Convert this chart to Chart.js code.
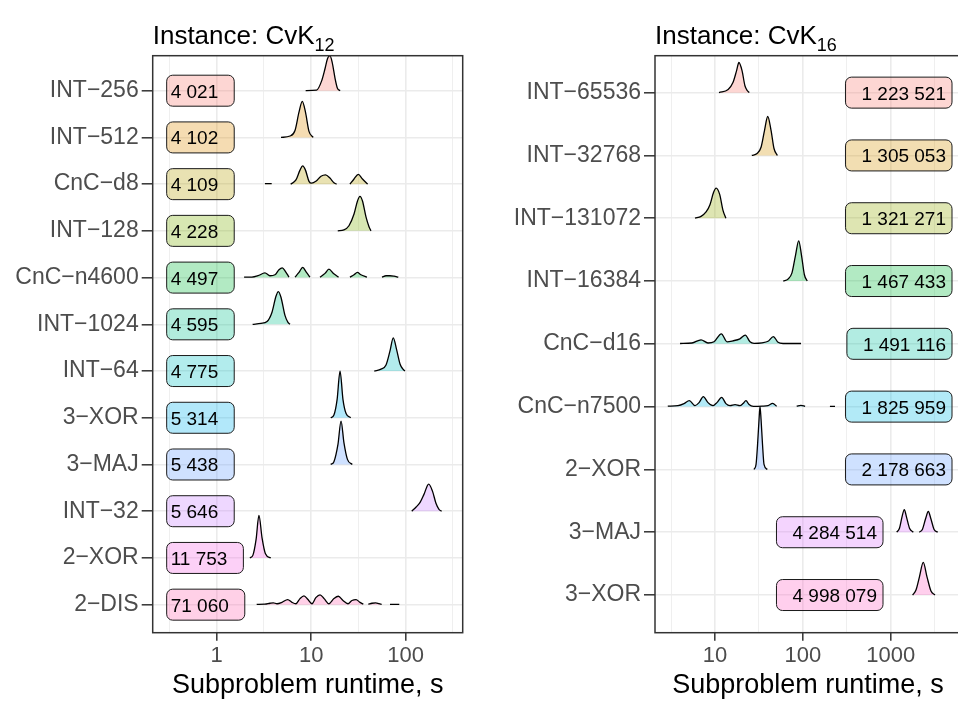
<!DOCTYPE html>
<html>
<head>
<meta charset="utf-8">
<script src="https://cdn.jsdelivr.net/npm/chart.js@4.4.0/dist/chart.umd.min.js"></script>
<style>
  html, body { margin: 0; padding: 0; background: #fff; width: 958px; height: 701px; overflow: hidden; }
  canvas { position: absolute; top: 0; }
  #leftChart { left: 0; }
  #rightChart { left: 480px; }
</style>
</head>
<body>
<canvas id="leftChart" width="480" height="701"></canvas>
<canvas id="rightChart" width="490" height="701"></canvas>
<script>
// ---- Instance CvK12 (rows listed top to bottom) ----
const leftCategories = ["INT−256", "INT−512", "CnC−d8", "INT−128", "CnC−n4600", "INT−1024",
  "INT−64", "3−XOR", "3−MAJ", "INT−32", "2−XOR", "2−DIS"];
const leftCounts = [4021, 4102, 4109, 4228, 4497, 4595, 4775, 5314, 5438, 5646, 11753, 71060];
const leftLabelX = [0.326, 0.326, 0.326, 0.326, 0.326, 0.326, 0.326, 0.326, 0.326, 0.326, 0.326, 0.326];
const leftXTicks = [1, 10, 100];

// ridges: [runtime s, height in rows], null = gap
const r12_INT256 = [[8.74,0],[11.4,0.01],[12.9,0.21],[14.0,0.47],[14.9,0.69],[15.8,0.75],[16.7,0.6],[17.9,0.26],[18.9,0.06],[20.2,0]];
const r12_INT512 = [[4.79,0],[5.97,0.03],[6.74,0.15],[7.43,0.54],[8.05,0.77],[8.70,0.54],[9.48,0.13],[10.5,0]];
const r12_CnCd8 = [[3.24,0.01],[3.82,0.01],null,[6.07,0],[6.90,0.09],[7.61,0.30],[8.13,0.39],[8.70,0.30],[9.48,0.06],[10.1,0.02],[11.2,0.06],[12.7,0.17],[14.2,0.20],[15.8,0.13],[17.4,0.03],[18.6,0],null,[25.7,0],[28.4,0.11],[31.5,0.21],[34.9,0.11],[39.6,0]];
const r12_INT128 = [[19.1,0],[22.2,0.02],[25.1,0.11],[28.4,0.36],[30.9,0.64],[32.8,0.74],[34.9,0.64],[38.0,0.30],[40.9,0.09],[42.9,0]];
const r12_CnCn4600 = [[1.95,0.01],[2.36,0.01],[2.74,0.04],[3.24,0.10],[3.66,0.04],[4.14,0.06],[4.56,0.17],[4.94,0.21],[5.35,0.13],[5.82,0.01],null,[6.74,0.01],[7.43,0.11],[8.13,0.22],[8.91,0.11],[9.71,0.01],null,[12.4,0.01],[14.0,0.09],[15.4,0.18],[17.2,0.09],[19.5,0.01],null,[25.7,0.01],[28.4,0.06],[30.8,0.11],[33.6,0.06],[38.9,0.01],null,[56.1,0.01],[61.9,0.04],[68.2,0.04],[75.2,0.03],[83.5,0.01]];
const r12_INT1024 = [[2.40,0],[2.94,0.02],[3.41,0.06],[3.85,0.26],[4.24,0.60],[4.49,0.70],[4.79,0.58],[5.28,0.19],[5.68,0.04],[5.97,0]];
const r12_INT64 = [[46.5,0],[54.8,0.04],[61.9,0.13],[68.2,0.43],[73.9,0.71],[79.9,0.47],[87.1,0.15],[93.6,0.04],[98.3,0]];
const r12_XOR3 = [[16.1,0],[17.4,0.06],[18.8,0.39],[20.2,1.0],[21.7,0.39],[23.4,0.09],[26.2,0]];
const r12_MAJ3 = [[16.1,0],[17.4,0.06],[19.2,0.43],[20.7,0.93],[22.2,0.47],[24.2,0.11],[27.2,0]];
const r12_INT32 = [[116,0],[129,0.09],[142,0.19],[156,0.36],[175,0.58],[192,0.43],[209,0.17],[225,0.04],[240,0]];
const r12_XOR2 = [[2.25,0],[2.42,0.06],[2.61,0.39],[2.80,0.91],[3.02,0.43],[3.28,0.09],[3.73,0]];
const r12_DIS2 = [[2.65,0.006],[3.24,0.01],[3.66,0.03],[3.97,0.04],[4.35,0.02],[4.91,0.05],[5.64,0.11],[6.26,0.05],[6.90,0.02],[7.61,0.13],[8.39,0.19],[9.25,0.11],[10.2,0.02],[11.2,0.15],[12.4,0.21],[13.7,0.13],[15.4,0.02],[17.4,0.13],[19.4,0.18],[21.7,0.09],[24.5,0.02],[27.0,0.09],[29.8,0.11],[32.8,0.05],[35.6,0.01],null,[40.2,0.01],[44.0,0.03],[48.2,0.04],[52.2,0.02],[55.7,0.006],null,[68.2,0.006],[85.5,0.006]];

// ---- Instance CvK16 ----
const rightCategories = ["INT−65536", "INT−32768", "INT−131072", "INT−16384", "CnC−d16",
  "CnC−n7500", "2−XOR", "3−MAJ", "3−XOR"];
const rightCounts = [1223521, 1305053, 1321271, 1467433, 1491116, 1825959, 2178663, 4284514, 4998079];
const rightLabelX = [4250, 4250, 4250, 4250, 4250, 4250, 4250, 697, 697];
const rightXTicks = [10, 100, 1000];

const r16_INT65536 = [[11.1,0],[14.1,0.05],[16.0,0.16],[17.6,0.35],[18.7,0.48],[20.3,0.35],[21.9,0.11],[23.4,0.03],[24.5,0]];
const r16_INT32768 = [[26.2,0],[30.1,0.03],[33.4,0.13],[36.6,0.40],[39.8,0.62],[43.4,0.40],[46.9,0.11],[51.2,0]];
const r16_INT131072 = [[5.92,0],[6.93,0.03],[7.91,0.10],[8.78,0.22],[9.61,0.41],[10.3,0.48],[11.3,0.38],[12.3,0.13],[13.3,0]];
const r16_INT16384 = [[59.8,0],[67.7,0.03],[75.1,0.13],[82.4,0.41],[89.6,0.64],[96.4,0.41],[104,0.10],[112,0]];
const r16_CnCd16 = [[4.00,0.005],[5.47,0.013],[6.93,0.064],[8.32,0.013],[9.74,0.032],[11.8,0.16],[13.7,0.032],[16.0,0.048],[19.2,0.08],[22.1,0.14],[25.0,0.032],[27.8,0.008],[34.3,0.016],[40.1,0.04],[46.1,0.116],[52.1,0.024],[59.4,0.005],[95.1,0.005]];
const r16_CnCn7500 = [[2.90,0.008],[3.79,0.016],[4.44,0.048],[5.10,0.095],[5.92,0.016],[6.58,0.064],[7.36,0.16],[8.32,0.064],[9.49,0.016],[10.5,0.064],[11.9,0.148],[13.3,0.048],[14.8,0.016],[16.9,0.032],[19.2,0.016],[20.8,0.048],[22.5,0.095],[24.4,0.032],[27.3,0.005],[34.3,0.008],[40.1,0.016],[45.3,0.052],[50.3,0.005],null,[84.9,0.008],[95.1,0.02],[106,0.005],null,[203,0.005],[232,0.005]];
const r16_XOR2 = [[27.8,0],[29.3,0.08],[30.5,0.4],[31.7,0.8],[32.5,1.0],[33.4,0.8],[34.7,0.4],[36.1,0.08],[39.3,0]];
const r16_MAJ3 = [[1167,0],[1256,0.064],[1340,0.24],[1425,0.36],[1510,0.24],[1633,0.064],[1804,0],null,[2109,0],[2294,0.048],[2483,0.21],[2673,0.33],[2866,0.21],[3100,0.048],[3417,0]];
const r16_XOR3 = [[1774,0],[1935,0.08],[2119,0.29],[2342,0.52],[2582,0.29],[2866,0.064],[3183,0]];

const leftRidges = [r12_INT256, r12_INT512, r12_CnCd8, r12_INT128, r12_CnCn4600, r12_INT1024,
  r12_INT64, r12_XOR3, r12_MAJ3, r12_INT32, r12_XOR2, r12_DIS2];
const rightRidges = [r16_INT65536, r16_INT32768, r16_INT131072, r16_INT16384, r16_CnCd16,
  r16_CnCn7500, r16_XOR2, r16_MAJ3, r16_XOR3];

// ggplot hue palettes
const hue12 = ["#F8766D", "#DE8C00", "#B79F00", "#7CAE00", "#00BA38", "#00C08B",
  "#00BFC4", "#00B4F0", "#619CFF", "#C77CFF", "#F564E3", "#FF64B0"];
const hue9 = ["#F8766D", "#D39200", "#93AA00", "#00BA38", "#00C19F", "#00B9E3",
  "#619CFF", "#DB72FB", "#FF61C3"];

const FONT = '"Liberation Sans", Arial, Helvetica, sans-serif';
Chart.defaults.font.family = FONT;
const H = 701;

function rgba(hex, a) {
  const n = parseInt(hex.slice(1), 16);
  return `rgba(${n >> 16}, ${(n >> 8) & 255}, ${n & 255}, ${a})`;
}

function fmt(v) {
  return String(v).replace(/\B(?=(\d{3})+(?!\d))/g, " ");
}

function buildDatasets(categories, ridges, colors) {
  const n = categories.length;
  const sets = [];
  // bottom row first, so lower ridges are painted over the ones above
  for (let k = n - 1; k >= 0; k--) {
    const base = n - 1 - k;
    let lastX = null;
    const data = ridges[k].map(p => {
      if (!p) return { x: lastX, y: null };
      lastX = p[0];
      return { x: p[0], y: base + p[1] };
    });
    sets.push({
      data: data,
      fill: { value: base },
      backgroundColor: rgba(colors[k], 0.3),
      borderColor: "#000",
      borderWidth: 1.3,
      pointRadius: 0,
      cubicInterpolationMode: "monotone",
      spanGaps: false
    });
  }
  return sets;
}

const panelExtras = {
  id: "panelExtras",
  afterDatasetsDraw(chart, args, o) {
    const { ctx, chartArea: a } = chart;
    const x = chart.scales.x, y = chart.scales.y;
    const n = o.categories.length;
    ctx.save();
    ctx.font = "19px " + FONT;
    o.counts.forEach((c, k) => {
      const txt = fmt(c);
      const w = ctx.measureText(txt).width;
      const py = y.getPixelForValue(n - 1 - k);
      const px = x.getPixelForValue(o.labelX[k]);
      let bx, bw, tx;
      if (o.labelAlign === "left") {
        bx = px - 4; bw = w + 20; tx = px;
      } else {
        bx = px - w - 16; bw = w + 22; tx = px - w;
      }
      ctx.beginPath();
      ctx.roundRect(bx, py - 15.5, bw, 31, 6);
      ctx.fillStyle = rgba(o.colors[k], 0.3);
      ctx.fill();
      ctx.lineWidth = 1;
      ctx.strokeStyle = "#1a1a1a";
      ctx.stroke();
      ctx.fillStyle = "#000";
      ctx.textBaseline = "alphabetic";
      ctx.textAlign = "left";
      ctx.fillText(txt, tx, py + 7);
    });
    // panel border
    ctx.strokeStyle = "#333333";
    ctx.lineWidth = 1.5;
    ctx.strokeRect(a.left, a.top, a.right - a.left, a.bottom - a.top);
    ctx.restore();
  },
  afterDraw(chart, args, o) {
    const { ctx, chartArea: a } = chart;
    ctx.save();
    ctx.fillStyle = "#000";
    ctx.textBaseline = "alphabetic";
    ctx.textAlign = "left";
    ctx.font = "26px " + FONT;
    ctx.fillText(o.title, a.left, 44);
    const tw = ctx.measureText(o.title).width;
    ctx.font = "18px " + FONT;
    ctx.fillText(o.sub, a.left + tw, 51);
    ctx.font = "27px " + FONT;
    ctx.textAlign = "center";
    ctx.fillText("Subproblem runtime, s", (a.left + a.right) / 2, 693);
    ctx.restore();
  }
};

function makePanel(id, cfg) {
  const n = cfg.categories.length;
  const minor = cfg.xMajor.map(v => v / Math.sqrt(10)).concat([cfg.xMajor[cfg.xMajor.length - 1] * Math.sqrt(10)]);
  const grid = minor.concat(cfg.xMajor).sort((p, q) => p - q);
  const isMajor = v => cfg.xMajor.includes(v);
  return new Chart(document.getElementById(id), {
    type: "line",
    data: { datasets: buildDatasets(cfg.categories, cfg.ridges, cfg.colors) },
    options: {
      responsive: false,
      animation: false,
      layout: { padding: { top: 55.7, right: cfg.padRight, bottom: 0, left: 0 } },
      plugins: {
        legend: { display: false },
        tooltip: { enabled: false },
        panelExtras: cfg
      },
      scales: {
        x: {
          type: "logarithmic",
          min: cfg.xMin,
          max: cfg.xMax,
          afterBuildTicks: s => { s.ticks = grid.map(v => ({ value: v })); },
          afterFit: s => { s.height = H - 632.7; },
          ticks: {
            autoSkip: false, maxRotation: 0, padding: 2,
            color: "#4D4D4D", font: { size: 22 },
            callback: v => isMajor(v) ? String(v) : ""
          },
          grid: {
            color: "#EBEBEB",
            lineWidth: c => (c.tick && isMajor(c.tick.value)) ? 1.6 : 0.8,
            tickLength: 8,
            tickWidth: 1.5,
            tickColor: c => (c.tick && isMajor(c.tick.value)) ? "#333333" : "rgba(0,0,0,0)"
          },
          border: { display: false }
        },
        y: {
          type: "linear",
          min: -0.6,
          max: cfg.yMax,
          afterBuildTicks: s => { s.ticks = cfg.categories.map((c, i) => ({ value: i })); },
          afterFit: s => { s.width = cfg.axisWidth; },
          ticks: {
            autoSkip: false, padding: 3,
            color: "#4D4D4D", font: { size: 23 },
            callback: v => cfg.categories[n - 1 - v]
          },
          grid: { color: "#EBEBEB", lineWidth: 1.6, tickLength: 11, tickWidth: 1.5, tickColor: "#333333" },
          border: { display: false }
        }
      }
    },
    plugins: [panelExtras]
  });
}

makePanel("leftChart", {
  title: "Instance: CvK", sub: "12",
  categories: leftCategories, counts: leftCounts, labelX: leftLabelX, labelAlign: "left",
  ridges: leftRidges, colors: hue12, xMajor: leftXTicks,
  xMin: 0.2104, xMax: 401, yMax: 11.749,
  axisWidth: 152.7, padRight: 17.3
});

makePanel("rightChart", {
  title: "Instance: CvK", sub: "16",
  categories: rightCategories, counts: rightCounts, labelX: rightLabelX, labelAlign: "right",
  ridges: rightRidges, colors: hue9, xMajor: rightXTicks,
  xMin: 2.075, xMax: 6295, yMax: 8.588,
  axisWidth: 175, padRight: 9
});
</script>
</body>
</html>
